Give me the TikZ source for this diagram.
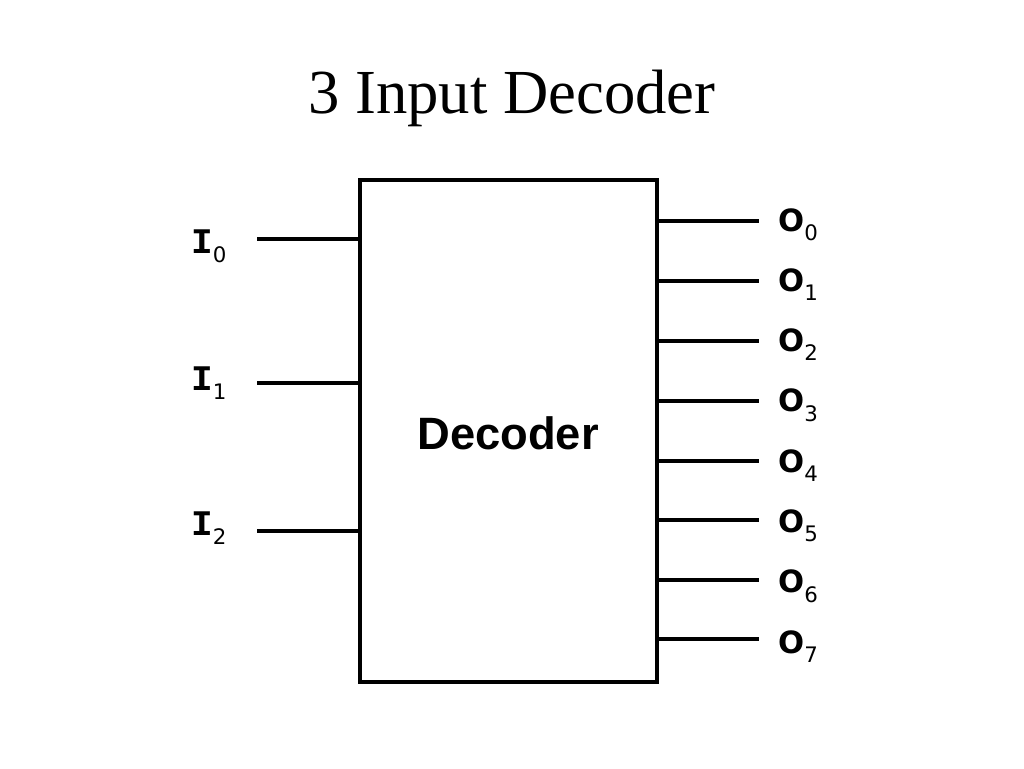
\documentclass[tikz,border=0pt]{standalone}
\usepackage{fontspec}
\setmainfont{Liberation Serif}
\newfontfamily\lsans{Liberation Sans}
\newfontfamily\lmono{Liberation Mono}
\newfontfamily\dsans{DejaVu Sans}
\newcommand{\subdig}[1]{\raisebox{-7pt}{\dsans\mdseries\fontsize{16}{16}\selectfont #1}}
\begin{document}
\begin{tikzpicture}[x=0.75pt,y=-0.75pt,
  wire/.style={line width=3pt},
  ilbl/.style={inner sep=0pt,font=\lmono\bfseries\fontsize{27}{27}\selectfont},
  olbl/.style={inner sep=0pt,font=\dsans\bfseries\fontsize{23}{23}\selectfont}]
\useasboundingbox (0,0) rectangle (1024,768);
\node[font=\fontsize{47}{47}\selectfont,anchor=base] (title) at (512,113) {3 Input Decoder};
\node[draw,line width=3pt,minimum width=297*0.75pt,minimum height=502*0.75pt,inner sep=0pt] (box) at (508,431) {};
\node[font=\lsans\bfseries\fontsize{34}{34}\selectfont] (dec) at (508,433) {Decoder};
\foreach \i/\y/\b in {0/239/253,1/383/390,2/531/535}{
  \coordinate (in\i) at (257,\y);
  \draw[wire] (in\i) -- (box.west |- in\i);
  \node[ilbl,anchor=base west] (I\i) at (191,\b) {I\subdig{\i}};
}
\foreach \i/\y in {0/221,1/281,2/341,3/401,4/461,5/520,6/580,7/639}{
  \coordinate (out\i) at (759,\y);
  \draw[wire] (box.east |- out\i) -- (out\i);
  \node[olbl,anchor=base west] (O\i) at (778,231+60.3*\i) {O\subdig{\i}};
}
\end{tikzpicture}
\end{document}
